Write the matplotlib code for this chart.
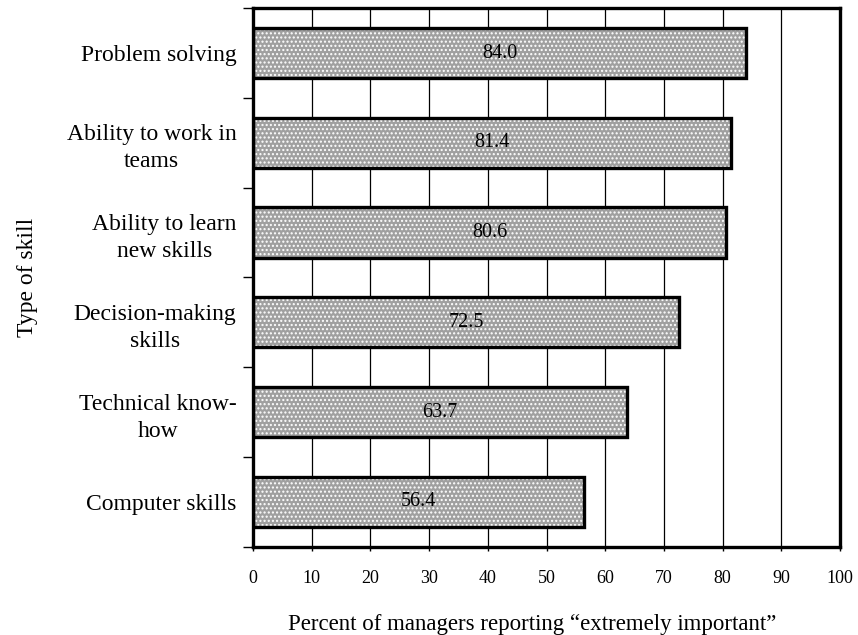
import numpy as np
import matplotlib.pyplot as plt

plt.rcParams['font.family'] = ['Liberation Serif', 'DejaVu Serif']

# data
skills = ['Problem solving', 'Ability to work in\nteams', 'Ability to learn\nnew skills',
          'Decision-making\nskills', 'Technical know-\nhow', 'Computer skills']
values = [84.0, 81.4, 80.6, 72.5, 63.7, 56.4]
xticks = [0, 10, 20, 30, 40, 50, 60, 70, 80, 90, 100]

fig = plt.figure(figsize=(8.58, 6.35), dpi=100)
ax = fig.add_axes([0.295, 0.139, 0.684, 0.848])

pos = np.arange(len(skills))[::-1]

# vertical grid behind bars
for x in xticks[1:-1]:
    ax.axvline(x, color='black', lw=0.9, zorder=0)

# stippled gray fill, then black outline on top
ax.barh(pos, values, height=0.56, color='#a0a0a0', edgecolor='white',
        hatch='....', linewidth=0, zorder=2)
ax.barh(pos, values, height=0.56, facecolor='none', edgecolor='black',
        linewidth=2.4, zorder=3)

for p, v in zip(pos, values):
    ax.text(v / 2, p, f'{v:.1f}', ha='center', va='center', fontsize=14.5, zorder=4)

ax.set_xlim(0, 100)
ax.set_ylim(-0.5, len(skills) - 0.5)
ax.set_xticks(xticks)
ax.tick_params(axis='x', direction='out', length=3, width=1, pad=14, labelsize=13)

# boundaries as major ticks, labels on minor ticks
ax.set_yticks(np.arange(-0.5, len(skills), 1))
ax.set_yticklabels([])
ax.set_yticks(pos, minor=True)
ax.set_yticklabels(skills, minor=True, fontsize=17, multialignment='center', linespacing=1.38)
ax.tick_params(axis='y', which='major', direction='out', length=7, width=1)
ax.tick_params(axis='y', which='minor', length=0, pad=12)

for s in ax.spines.values():
    s.set_linewidth(2.4)

ax.set_xlabel('Percent of managers reporting \u201cextremely important\u201d', fontsize=16.5, labelpad=14)
ax.xaxis.set_label_coords(0.475, -0.125)
ax.set_ylabel('Type of skill', fontsize=17, labelpad=21)

fig.savefig('out.png', dpi=100)
